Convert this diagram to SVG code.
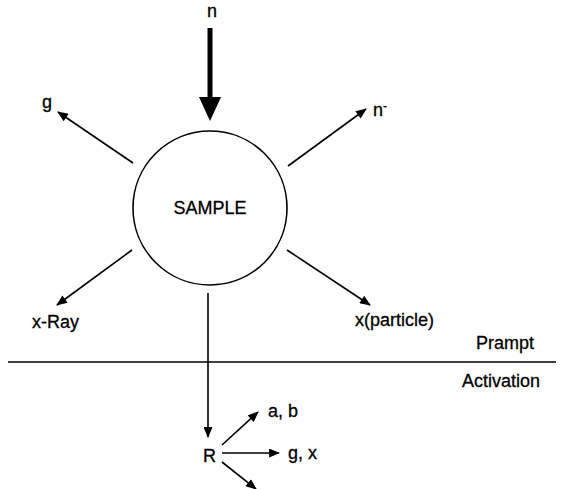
<svg xmlns="http://www.w3.org/2000/svg" width="566" height="489" viewBox="0 0 566 489">
<style>
text{font-family:"Liberation Sans",Arial,sans-serif;font-size:18px;fill:#000;stroke:#000;stroke-width:0.3}
.ln{stroke:#000;stroke-width:1.6;fill:none}
</style>
<defs>
<marker id="ah" viewBox="0 0 12 10" refX="11" refY="5" markerWidth="12" markerHeight="9" markerUnits="userSpaceOnUse" orient="auto">
<path d="M0,0 L12,5 L0,10 Z" fill="#000"/>
</marker>
</defs>
<rect width="566" height="489" fill="#fff"/>
<g id="connectors">
<line x1="210" y1="28" x2="210" y2="100" stroke="#000" stroke-width="5"/>
<polygon points="199,97 221,97 210,121" fill="#000"/>
<line class="ln" x1="133" y1="163" x2="58" y2="112" marker-end="url(#ah)"/>
<line class="ln" x1="288" y1="166" x2="366" y2="109" marker-end="url(#ah)"/>
<line class="ln" x1="132" y1="250" x2="57" y2="305" marker-end="url(#ah)"/>
<line class="ln" x1="287" y1="250" x2="370" y2="305" marker-end="url(#ah)"/>
<line class="ln" x1="208" y1="293" x2="208" y2="437" marker-end="url(#ah)"/>
<line class="ln" x1="222" y1="445" x2="258" y2="412" marker-end="url(#ah)"/>
<line class="ln" x1="222" y1="453" x2="279" y2="453" marker-end="url(#ah)"/>
<line class="ln" x1="222" y1="462" x2="256" y2="489" marker-end="url(#ah)"/>
<line x1="8" y1="362" x2="556" y2="362" stroke="#000" stroke-width="1.6"/>
</g>
<g id="sample">
<circle cx="210" cy="208" r="77" fill="#fff" stroke="#000" stroke-width="1.6"/>
<text x="210" y="214" text-anchor="middle" font-size="19">SAMPLE</text>
</g>
<g id="n"><text x="212" y="17" text-anchor="middle">n</text></g>
<g id="g"><text x="42" y="108">g</text></g>
<g id="nminus"><text x="373" y="116">n<tspan font-size="12" dy="-6">-</tspan></text></g>
<g id="xray"><text x="32" y="328">x-Ray</text></g>
<g id="xparticle"><text x="355" y="326">x(particle)</text></g>
<g id="prampt"><text x="476" y="349">Prampt</text></g>
<g id="activation"><text x="462" y="387">Activation</text></g>
<g id="R"><text x="203" y="462">R</text></g>
<g id="ab"><text x="268" y="417">a, b</text></g>
<g id="gx"><text x="288" y="459">g, x</text></g>
</svg>
